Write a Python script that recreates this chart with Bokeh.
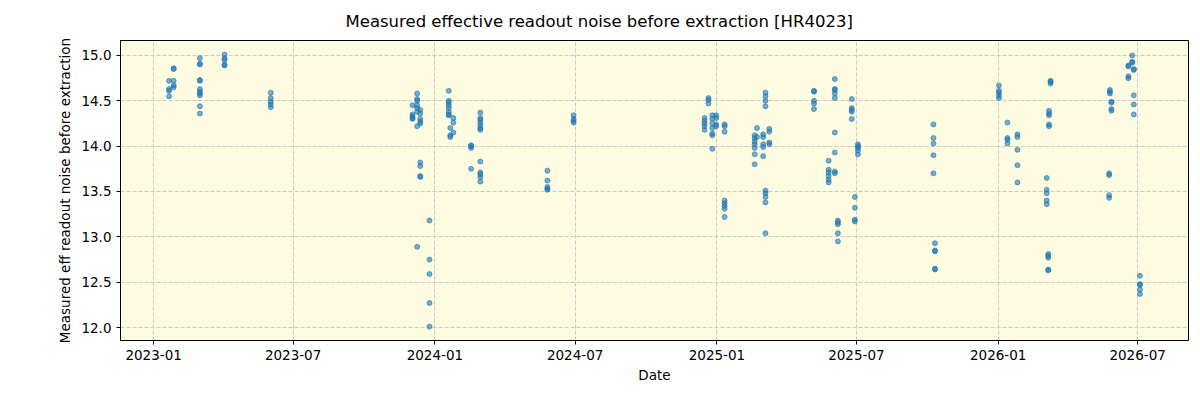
import pandas as pd
from bokeh.plotting import figure
from bokeh.models import Range1d, FixedTicker, DatetimeTickFormatter, ColumnDataSource, NumeralTickFormatter
from bokeh.embed import file_html
from bokeh.resources import INLINE

# ---- data ----
obs_dates = [
    "2023-01-21", "2023-01-27", "2023-03-02", "2023-04-03", "2023-06-02",
    "2023-12-03", "2023-12-09", "2023-12-13", "2023-12-25",
    "2024-01-19", "2024-01-21", "2024-01-25", "2024-02-17", "2024-02-29",
    "2024-05-26", "2024-06-29",
    "2024-12-16", "2024-12-21", "2024-12-26", "2024-12-31",
    "2025-01-11", "2025-02-19", "2025-02-22", "2025-03-02", "2025-03-05", "2025-03-10",
    "2025-05-07", "2025-05-26", "2025-06-03", "2025-06-07", "2025-06-25", "2025-06-29", "2025-07-03",
    "2025-10-09", "2025-10-11",
    "2026-01-02", "2026-01-13", "2026-01-26",
    "2026-03-05", "2026-03-07", "2026-03-08", "2026-03-10",
    "2026-05-25", "2026-05-26", "2026-05-28",
    "2026-06-19", "2026-06-24", "2026-06-26", "2026-07-04",
]
noise_values = [
    [14.72, 14.63, 14.61, 14.55],
    [14.86, 14.85, 14.72, 14.67, 14.65],
    [14.97, 14.91, 14.90, 14.73, 14.72, 14.63, 14.60, 14.58, 14.56, 14.44, 14.36],
    [15.01, 14.97, 14.95, 14.90, 14.89],
    [14.59, 14.53, 14.49, 14.46, 14.43],
    [14.45, 14.35, 14.33, 14.31, 14.30],
    [14.58, 14.52, 14.50, 14.45, 14.42, 14.38, 14.22, 12.89],
    [14.40, 14.36, 14.30, 14.27, 14.25, 13.82, 13.78, 13.67, 13.66],
    [13.18, 12.75, 12.59, 12.27, 12.01],
    [14.61, 14.50, 14.48, 14.45, 14.42, 14.38, 14.35, 14.34],
    [14.20, 14.12, 14.10],
    [14.31, 14.26, 14.15],
    [14.01, 14.00, 13.98, 13.75],
    [14.37, 14.31, 14.29, 14.26, 14.23, 14.20, 14.18, 13.83, 13.71, 13.69, 13.66, 13.61],
    [13.73, 13.62, 13.55, 13.53, 13.52],
    [14.34, 14.30, 14.28, 14.26],
    [14.31, 14.28, 14.25, 14.22, 14.18],
    [14.53, 14.51, 14.47],
    [14.34, 14.30, 14.25, 14.20, 14.14, 14.12, 13.97],
    [14.34, 14.31, 14.24, 14.22],
    [14.24, 14.22, 14.16, 13.40, 13.37, 13.34, 13.31, 13.22],
    [14.12, 14.09, 14.05, 14.02, 13.98, 13.91, 13.80],
    [14.20, 14.10],
    [14.13, 14.10, 14.02, 13.99, 13.89],
    [14.59, 14.55, 14.50, 14.44, 13.51, 13.48, 13.44, 13.38, 13.04],
    [14.19, 14.16, 14.04, 14.02],
    [14.61, 14.60, 14.50, 14.47, 14.41],
    [13.84, 13.74, 13.71, 13.67, 13.63, 13.60],
    [14.74, 14.63, 14.62, 14.58, 14.53, 14.15, 13.93, 13.72, 13.70],
    [13.18, 13.16, 13.14, 13.04, 12.95],
    [14.52, 14.42, 14.40, 14.38, 14.30],
    [13.44, 13.32, 13.19, 13.17],
    [14.02, 14.00, 13.98, 13.95, 13.91],
    [14.24, 14.09, 14.03, 13.90, 13.70],
    [12.93, 12.85, 12.84, 12.65, 12.64],
    [14.67, 14.61, 14.59, 14.56, 14.53],
    [14.26, 14.09, 14.07, 14.03],
    [14.13, 14.10, 13.96, 13.79, 13.60],
    [13.65, 13.52, 13.48, 13.40, 13.36],
    [12.81, 12.79, 12.77, 12.64, 12.63],
    [14.39, 14.36, 14.34, 14.24, 14.22],
    [14.72, 14.71, 14.69],
    [13.70, 13.68, 13.46, 13.43],
    [14.62, 14.60, 14.58],
    [14.49, 14.48, 14.41, 14.39],
    [14.89, 14.88, 14.77, 14.75],
    [15.00, 14.93, 14.92],
    [14.85, 14.84, 14.56, 14.46, 14.35],
    [12.57, 12.48, 12.47, 12.42, 12.37],
]
x_tick_labels = ["2023-01", "2023-07", "2024-01", "2024-07", "2025-01", "2025-07", "2026-01", "2026-07"]
y_ticks = [12.0, 12.5, 13.0, 13.5, 14.0, 14.5, 15.0]
title_text = "Measured effective readout noise before extraction [HR4023]"
x_label = "Date"
y_label = "Measured eff readout noise before extraction"

# ---- build ----
xs, ys = [], []
for d, vals in zip(obs_dates, noise_values):
    for v in vals:
        xs.append(pd.Timestamp(d))
        ys.append(v)
src = ColumnDataSource(dict(x=xs, y=ys))

FONT = "DejaVu Sans"
p = figure(
    width=1200, height=400,
    frame_width=1068, frame_height=300,
    x_axis_type="datetime",
    output_backend="svg", toolbar_location=None,
    min_border_left=120, min_border_right=12, min_border_top=40, min_border_bottom=60,
    x_range=Range1d(pd.Timestamp("2022-11-19"), pd.Timestamp("2026-09-05")),
    y_range=Range1d(11.857, 15.165),
)
p.title.text = title_text
p.title.align = "left"
p.title.vertical_align = "top"
p.title.text_font = FONT
p.title.text_font_size = "16.5px"
p.title.text_font_style = "normal"
p.title.text_color = "black"
p.title.text_line_height = 0.7
p.title.offset = 225
p.title.standoff = 16

p.background_fill_color = "#fdfce1"
p.border_fill_color = "white"
p.outline_line_color = "black"
p.outline_line_width = 1

p.scatter("x", "y", source=src, size=5, color="#1f77b4", alpha=0.6)

tick_ms = [pd.Timestamp(t + "-01").value / 1e6 for t in x_tick_labels]
p.xaxis.ticker = FixedTicker(ticks=tick_ms)
p.xaxis.formatter = DatetimeTickFormatter(days="%Y-%m", months="%Y-%m", years="%Y-%m")
p.yaxis.ticker = FixedTicker(ticks=y_ticks)
p.yaxis.formatter = NumeralTickFormatter(format="0.0")

for ax in (p.xaxis, p.yaxis):
    ax.axis_line_color = "black"
    ax.major_tick_line_color = "black"
    ax.major_tick_out = 4
    ax.major_tick_in = 0
    ax.minor_tick_line_color = None
    ax.major_label_text_font = FONT
    ax.major_label_text_font_size = "13.5px"
    ax.major_label_text_color = "black"
    ax.axis_label_text_font = FONT
    ax.axis_label_text_font_size = "13.5px"
    ax.axis_label_text_font_style = "normal"
    ax.axis_label_text_color = "black"
p.xaxis.axis_label = x_label
p.yaxis.axis_label = y_label
p.xaxis.axis_label_standoff = 4
p.yaxis.axis_label_standoff = 5

p.grid.grid_line_color = "#c8c8d0"
p.grid.grid_line_dash = "4 2"
p.grid.grid_line_width = 1

open("out.html", "w").write(file_html(p, INLINE))
